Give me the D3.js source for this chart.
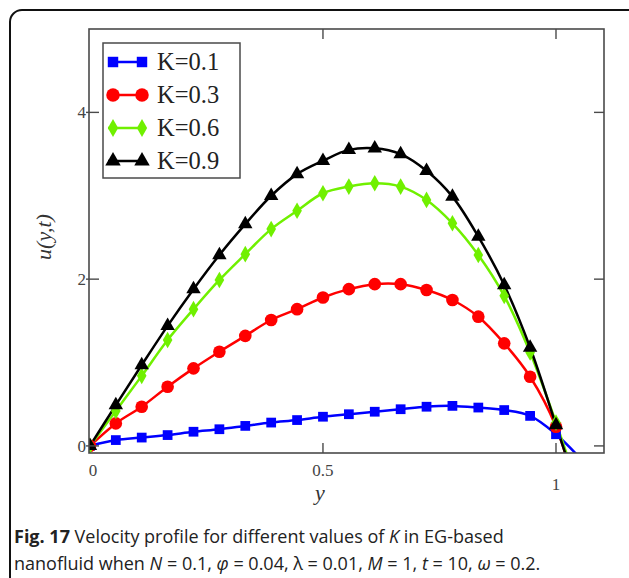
<!DOCTYPE html>
<html>
<head>
<meta charset="utf-8">
<script src="https://cdn.jsdelivr.net/npm/d3@7"></script>
<style>
  body { margin: 0; background: #fff; }
  svg { display: block; }
</style>
</head>
<body>
<div id="chart"></div>
<script>
// y positions: 19 marked points from 0 to 1 (step 1/18) plus one past the wall
const yValues = d3.range(20).map(i => i / 18);
const kLabels = ["K=0.1", "K=0.3", "K=0.6", "K=0.9"];
const uK01 = [0, 0.07, 0.10, 0.13, 0.17, 0.20, 0.24, 0.28, 0.31, 0.35, 0.38, 0.41, 0.44, 0.47, 0.48, 0.46, 0.43, 0.36, 0.14, -0.17];
const uK03 = [0, 0.27, 0.47, 0.71, 0.93, 1.13, 1.32, 1.51, 1.64, 1.78, 1.88, 1.94, 1.94, 1.87, 1.75, 1.55, 1.23, 0.83, 0.23, -0.80];
const uK06 = [0, 0.42, 0.84, 1.27, 1.64, 1.99, 2.30, 2.60, 2.82, 3.03, 3.11, 3.15, 3.11, 2.95, 2.67, 2.29, 1.80, 1.12, 0.28, -0.65];
const uK09 = [0, 0.49, 0.97, 1.44, 1.88, 2.29, 2.66, 3.00, 3.26, 3.42, 3.55, 3.57, 3.50, 3.30, 2.99, 2.51, 1.93, 1.18, 0.25, -0.70];
const xTicks = [0, 0.5, 1];
const yTicks = [0, 2, 4];

const series = [
  { label: kLabels[0], values: uK01, color: "#0000ff", symbol: d3.symbolSquare, size: 95 },
  { label: kLabels[1], values: uK03, color: "#ff0000", symbol: d3.symbolCircle, size: 125 },
  { label: kLabels[2], values: uK06, color: "#70f000", symbol: d3.symbolDiamond, size: 80 },
  { label: kLabels[3], values: uK09, color: "#000000", symbol: d3.symbolTriangle, size: 90 }
];

const width = 629;
const height = 578;
const plot = { left: 89, top: 29, right: 604, bottom: 453 };
const axisColor = "#4a4a4a";
const serif = "'Liberation Serif', 'Times New Roman', serif";

const svg = d3.select("#chart").append("svg")
  .attr("width", width)
  .attr("height", height);

// outer card border
svg.append("rect")
  .attr("x", 10).attr("y", 10)
  .attr("width", 630).attr("height", 600)
  .attr("rx", 12)
  .attr("fill", "none")
  .attr("stroke", "#111")
  .attr("stroke-width", 2);

const xScale = d3.scaleLinear().domain([-0.002, 1.103]).range([plot.left, plot.right]);
const yScale = d3.scaleLinear().domain([-0.085, 5.0]).range([plot.bottom, plot.top]);

svg.append("clipPath").attr("id", "plot-clip")
  .append("rect")
  .attr("x", plot.left).attr("y", plot.top)
  .attr("width", plot.right - plot.left)
  .attr("height", plot.bottom - plot.top);

// curves
const line = d3.line()
  .x((d, i) => xScale(yValues[i]))
  .y(d => yScale(d))
  .curve(d3.curveCatmullRom);

const curves = svg.append("g").attr("clip-path", "url(#plot-clip)");
series.forEach(s => {
  curves.append("path")
    .datum(s.values)
    .attr("d", line)
    .attr("fill", "none")
    .attr("stroke", s.color)
    .attr("stroke-width", 2.5);
});
series.forEach(s => {
  curves.selectAll(null)
    .data(s.values.slice(0, 19))
    .enter()
    .append("path")
    .attr("d", d3.symbol().type(s.symbol).size(s.size))
    .attr("transform", (d, i) => `translate(${xScale(yValues[i])},${yScale(d)})`)
    .attr("fill", s.color);
});

// frame
svg.append("rect")
  .attr("x", plot.left).attr("y", plot.top)
  .attr("width", plot.right - plot.left)
  .attr("height", plot.bottom - plot.top)
  .attr("fill", "none")
  .attr("stroke", axisColor)
  .attr("stroke-width", 1.6);

// ticks (inward, left ones poke out a little)
const ticks = svg.append("g").attr("stroke", axisColor).attr("stroke-width", 1.4);
yTicks.forEach(t => {
  ticks.append("line")
    .attr("x1", plot.left - 3).attr("x2", plot.left + 10)
    .attr("y1", yScale(t)).attr("y2", yScale(t));
  ticks.append("line")
    .attr("x1", plot.right - 10).attr("x2", plot.right)
    .attr("y1", yScale(t)).attr("y2", yScale(t));
});
xTicks.filter(t => t > 0).forEach(t => {
  ticks.append("line")
    .attr("x1", xScale(t)).attr("x2", xScale(t))
    .attr("y1", plot.bottom - 10).attr("y2", plot.bottom);
  ticks.append("line")
    .attr("x1", xScale(t)).attr("x2", xScale(t))
    .attr("y1", plot.top).attr("y2", plot.top + 10);
});

// tick labels
svg.selectAll(".ytick")
  .data(yTicks)
  .enter()
  .append("text")
  .attr("x", plot.left - 3)
  .attr("y", d => yScale(d) + 6)
  .attr("text-anchor", "end")
  .attr("font-family", serif)
  .attr("font-size", "17px")
  .attr("fill", "#444")
  .text(d => d);

svg.selectAll(".xtick")
  .data(xTicks)
  .enter()
  .append("text")
  .attr("x", d => xScale(d) + (d === 0 ? 3 : 0))
  .attr("y", d => d === 1 ? 490 : 476)
  .attr("text-anchor", "middle")
  .attr("font-family", serif)
  .attr("font-size", "17px")
  .attr("fill", "#444")
  .text(d => d);

// axis titles
svg.append("text")
  .attr("transform", "translate(51,237) rotate(-90)")
  .attr("text-anchor", "middle")
  .attr("font-family", serif)
  .attr("font-style", "italic")
  .attr("font-size", "22px")
  .attr("fill", "#333")
  .text("u(y,t)");

svg.append("text")
  .attr("x", 320).attr("y", 500)
  .attr("text-anchor", "middle")
  .attr("font-family", serif)
  .attr("font-style", "italic")
  .attr("font-size", "22px")
  .attr("fill", "#333")
  .text("y");

// legend
const legend = svg.append("g");
legend.append("rect")
  .attr("x", 103).attr("y", 43)
  .attr("width", 137).attr("height", 135)
  .attr("fill", "#fff")
  .attr("stroke", axisColor)
  .attr("stroke-width", 1.5);
series.forEach((s, i) => {
  const ly = 62 + i * 33;
  legend.append("line")
    .attr("x1", 108).attr("x2", 146)
    .attr("y1", ly).attr("y2", ly)
    .attr("stroke", s.color)
    .attr("stroke-width", 2.5);
  [113, 142].forEach(mx => {
    legend.append("path")
      .attr("d", d3.symbol().type(s.symbol).size(s.size * 1.15))
      .attr("transform", `translate(${mx},${ly})`)
      .attr("fill", s.color);
  });
  legend.append("text")
    .attr("x", 157).attr("y", ly + 8)
    .attr("font-family", serif)
    .attr("font-size", "24.5px")
    .attr("fill", "#222")
    .text(s.label);
});

// caption
const cap = svg.append("g")
  .attr("font-family", "'Open Sans', sans-serif")
  .attr("font-size", "18px")
  .attr("fill", "#222");
const line1 = cap.append("text").attr("x", 14).attr("y", 543);
line1.append("tspan").attr("font-weight", "bold").text("Fig. 17");
line1.append("tspan").text(" Velocity profile for different values of ");
line1.append("tspan").attr("font-style", "italic").text("K");
line1.append("tspan").text(" in EG-based");

const line2 = cap.append("text").attr("x", 14).attr("y", 570);
const parts = [
  ["nanofluid when ", false], ["N", true], [" = 0.1, ", false], ["φ", true], [" = 0.04, ", false],
  ["λ", false], [" = 0.01, ", false], ["M", true], [" = 1, ", false], ["t", true],
  [" = 10, ", false], ["ω", true], [" = 0.2.", false]
];
parts.forEach(p => {
  line2.append("tspan").attr("font-style", p[1] ? "italic" : "normal").text(p[0]);
});
</script>
</body>
</html>
